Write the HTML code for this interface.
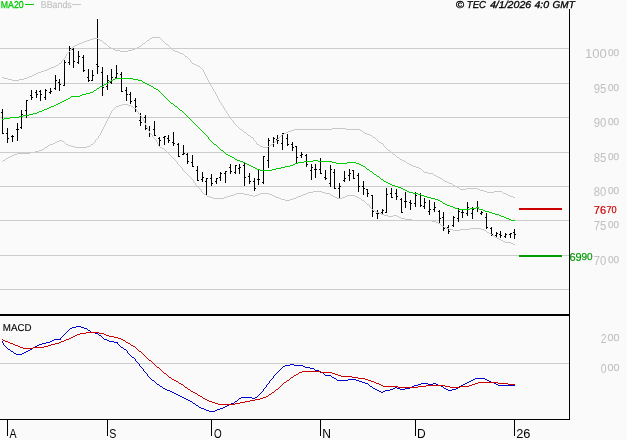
<!DOCTYPE html>
<html lang="en"><head><meta charset="utf-8"><title>Chart</title>
<style>
html,body{margin:0;padding:0;background:#fafafa;}
body{width:627px;height:440px;overflow:hidden;}
svg{display:block;}
text{font-family:"Liberation Sans",sans-serif;}
.g{text-rendering:geometricPrecision;}
</style></head><body>
<svg width="627" height="440" viewBox="0 0 627 440">
<rect width="627" height="440" fill="#fafafa"/>
<g shape-rendering="crispEdges" fill="#cccccc">
<rect x="0" y="48" width="569" height="1"/>
<rect x="0" y="83" width="569" height="1"/>
<rect x="0" y="117" width="569" height="1"/>
<rect x="0" y="152" width="569" height="1"/>
<rect x="0" y="186" width="569" height="1"/>
<rect x="0" y="220" width="569" height="1"/>
<rect x="0" y="255" width="569" height="1"/>
<rect x="0" y="289" width="569" height="1"/>
<rect x="0" y="363" width="569" height="1"/>
</g>
<g shape-rendering="crispEdges" fill="#000">
<rect x="2" y="109" width="1" height="25"/><rect x="1" y="112" width="1" height="1"/><rect x="3" y="133" width="1" height="1"/>
<rect x="7" y="128" width="1" height="15"/><rect x="6" y="133" width="1" height="1"/><rect x="8" y="138" width="1" height="1"/>
<rect x="12" y="135" width="1" height="7"/><rect x="11" y="136" width="1" height="1"/><rect x="13" y="136" width="1" height="1"/>
<rect x="17" y="123" width="1" height="18"/><rect x="16" y="129" width="1" height="1"/><rect x="18" y="129" width="1" height="1"/>
<rect x="21" y="110" width="1" height="19"/><rect x="20" y="127" width="1" height="1"/><rect x="22" y="114" width="1" height="1"/>
<rect x="26" y="100" width="1" height="18"/><rect x="25" y="110" width="1" height="1"/><rect x="27" y="100" width="1" height="1"/>
<rect x="31" y="90" width="1" height="10"/><rect x="30" y="95" width="1" height="1"/><rect x="32" y="97" width="1" height="1"/>
<rect x="36" y="90" width="1" height="8"/><rect x="35" y="92" width="1" height="1"/><rect x="37" y="94" width="1" height="1"/>
<rect x="40" y="90" width="1" height="11"/><rect x="39" y="91" width="1" height="1"/><rect x="41" y="94" width="1" height="1"/>
<rect x="45" y="89" width="1" height="11"/><rect x="44" y="97" width="1" height="1"/><rect x="46" y="90" width="1" height="1"/>
<rect x="50" y="88" width="1" height="6"/><rect x="49" y="92" width="1" height="1"/><rect x="51" y="91" width="1" height="1"/>
<rect x="55" y="75" width="1" height="15"/><rect x="54" y="88" width="1" height="1"/><rect x="56" y="80" width="1" height="1"/>
<rect x="59" y="79" width="1" height="12"/><rect x="58" y="82" width="1" height="1"/><rect x="60" y="84" width="1" height="1"/>
<rect x="64" y="60" width="1" height="26"/><rect x="63" y="85" width="1" height="1"/><rect x="65" y="62" width="1" height="1"/>
<rect x="69" y="46" width="1" height="19"/><rect x="68" y="62" width="1" height="1"/><rect x="70" y="48" width="1" height="1"/>
<rect x="73" y="48" width="1" height="20"/><rect x="72" y="49" width="1" height="1"/><rect x="74" y="61" width="1" height="1"/>
<rect x="78" y="51" width="1" height="13"/><rect x="77" y="62" width="1" height="1"/><rect x="79" y="56" width="1" height="1"/>
<rect x="83" y="55" width="1" height="17"/><rect x="82" y="57" width="1" height="1"/><rect x="84" y="70" width="1" height="1"/>
<rect x="88" y="69" width="1" height="13"/><rect x="87" y="77" width="1" height="1"/><rect x="89" y="80" width="1" height="1"/>
<rect x="92" y="70" width="1" height="11"/><rect x="91" y="80" width="1" height="1"/><rect x="93" y="75" width="1" height="1"/>
<rect x="97" y="19" width="1" height="55"/><rect x="96" y="64" width="1" height="1"/><rect x="98" y="66" width="1" height="1"/>
<rect x="102" y="67" width="1" height="29"/><rect x="101" y="72" width="1" height="1"/><rect x="103" y="87" width="1" height="1"/>
<rect x="107" y="75" width="1" height="15"/><rect x="106" y="86" width="1" height="1"/><rect x="108" y="80" width="1" height="1"/>
<rect x="111" y="69" width="1" height="15"/><rect x="110" y="82" width="1" height="1"/><rect x="112" y="77" width="1" height="1"/>
<rect x="116" y="65" width="1" height="13"/><rect x="115" y="77" width="1" height="1"/><rect x="117" y="73" width="1" height="1"/>
<rect x="121" y="72" width="1" height="20"/><rect x="120" y="74" width="1" height="1"/><rect x="122" y="91" width="1" height="1"/>
<rect x="126" y="87" width="1" height="14"/><rect x="125" y="90" width="1" height="1"/><rect x="127" y="94" width="1" height="1"/>
<rect x="130" y="92" width="1" height="12"/><rect x="129" y="94" width="1" height="1"/><rect x="131" y="101" width="1" height="1"/>
<rect x="135" y="98" width="1" height="14"/><rect x="134" y="100" width="1" height="1"/><rect x="136" y="106" width="1" height="1"/>
<rect x="140" y="113" width="1" height="13"/><rect x="139" y="120" width="1" height="1"/><rect x="141" y="122" width="1" height="1"/>
<rect x="145" y="115" width="1" height="15"/><rect x="144" y="117" width="1" height="1"/><rect x="146" y="128" width="1" height="1"/>
<rect x="149" y="126" width="1" height="11"/>
<rect x="154" y="121" width="1" height="15"/><rect x="153" y="129" width="1" height="1"/><rect x="155" y="135" width="1" height="1"/>
<rect x="159" y="137" width="1" height="9"/><rect x="158" y="138" width="1" height="1"/><rect x="160" y="140" width="1" height="1"/>
<rect x="164" y="136" width="1" height="9"/><rect x="163" y="137" width="1" height="1"/><rect x="165" y="136" width="1" height="1"/>
<rect x="168" y="135" width="1" height="8"/><rect x="167" y="138" width="1" height="1"/><rect x="169" y="140" width="1" height="1"/>
<rect x="173" y="132" width="1" height="14"/><rect x="172" y="142" width="1" height="1"/><rect x="174" y="143" width="1" height="1"/>
<rect x="178" y="143" width="1" height="14"/><rect x="177" y="144" width="1" height="1"/><rect x="179" y="156" width="1" height="1"/>
<rect x="183" y="145" width="1" height="10"/><rect x="182" y="154" width="1" height="1"/><rect x="184" y="153" width="1" height="1"/>
<rect x="187" y="153" width="1" height="11"/><rect x="186" y="154" width="1" height="1"/><rect x="188" y="161" width="1" height="1"/>
<rect x="192" y="155" width="1" height="12"/><rect x="191" y="162" width="1" height="1"/><rect x="193" y="166" width="1" height="1"/>
<rect x="197" y="166" width="1" height="15"/><rect x="196" y="170" width="1" height="1"/><rect x="198" y="180" width="1" height="1"/>
<rect x="202" y="172" width="1" height="10"/><rect x="201" y="179" width="1" height="1"/><rect x="203" y="177" width="1" height="1"/>
<rect x="206" y="178" width="1" height="17"/><rect x="205" y="181" width="1" height="1"/><rect x="207" y="178" width="1" height="1"/>
<rect x="211" y="174" width="1" height="12"/><rect x="210" y="178" width="1" height="1"/><rect x="212" y="183" width="1" height="1"/>
<rect x="216" y="178" width="1" height="6"/><rect x="215" y="181" width="1" height="1"/><rect x="217" y="178" width="1" height="1"/>
<rect x="220" y="172" width="1" height="9"/><rect x="219" y="177" width="1" height="1"/><rect x="221" y="173" width="1" height="1"/>
<rect x="225" y="171" width="1" height="12"/><rect x="224" y="173" width="1" height="1"/><rect x="226" y="171" width="1" height="1"/>
<rect x="230" y="164" width="1" height="10"/><rect x="229" y="167" width="1" height="1"/><rect x="231" y="171" width="1" height="1"/>
<rect x="235" y="165" width="1" height="9"/><rect x="234" y="172" width="1" height="1"/><rect x="236" y="165" width="1" height="1"/>
<rect x="239" y="164" width="1" height="10"/><rect x="238" y="168" width="1" height="1"/><rect x="240" y="167" width="1" height="1"/>
<rect x="244" y="163" width="1" height="23"/><rect x="243" y="165" width="1" height="1"/><rect x="245" y="177" width="1" height="1"/>
<rect x="249" y="173" width="1" height="11"/><rect x="248" y="176" width="1" height="1"/><rect x="250" y="181" width="1" height="1"/>
<rect x="254" y="178" width="1" height="13"/><rect x="253" y="181" width="1" height="1"/><rect x="255" y="188" width="1" height="1"/>
<rect x="258" y="170" width="1" height="15"/><rect x="257" y="179" width="1" height="1"/><rect x="259" y="179" width="1" height="1"/>
<rect x="263" y="156" width="1" height="28"/><rect x="262" y="182" width="1" height="1"/><rect x="264" y="156" width="1" height="1"/>
<rect x="268" y="138" width="1" height="30"/><rect x="267" y="160" width="1" height="1"/><rect x="269" y="140" width="1" height="1"/>
<rect x="273" y="137" width="1" height="10"/><rect x="272" y="144" width="1" height="1"/><rect x="274" y="138" width="1" height="1"/>
<rect x="277" y="135" width="1" height="9"/><rect x="276" y="139" width="1" height="1"/><rect x="278" y="140" width="1" height="1"/>
<rect x="282" y="133" width="1" height="17"/><rect x="281" y="143" width="1" height="1"/><rect x="283" y="133" width="1" height="1"/>
<rect x="287" y="134" width="1" height="12"/><rect x="286" y="138" width="1" height="1"/><rect x="288" y="144" width="1" height="1"/>
<rect x="292" y="142" width="1" height="9"/><rect x="291" y="144" width="1" height="1"/><rect x="293" y="147" width="1" height="1"/>
<rect x="296" y="146" width="1" height="18"/><rect x="295" y="146" width="1" height="1"/><rect x="297" y="157" width="1" height="1"/>
<rect x="301" y="152" width="1" height="6"/><rect x="300" y="155" width="1" height="1"/><rect x="302" y="154" width="1" height="1"/>
<rect x="306" y="154" width="1" height="13"/><rect x="305" y="155" width="1" height="1"/><rect x="307" y="164" width="1" height="1"/>
<rect x="311" y="164" width="1" height="16"/><rect x="310" y="170" width="1" height="1"/><rect x="312" y="167" width="1" height="1"/>
<rect x="315" y="164" width="1" height="14"/><rect x="314" y="169" width="1" height="1"/><rect x="316" y="169" width="1" height="1"/>
<rect x="320" y="158" width="1" height="16"/><rect x="319" y="169" width="1" height="1"/><rect x="321" y="173" width="1" height="1"/>
<rect x="325" y="170" width="1" height="10"/><rect x="324" y="177" width="1" height="1"/><rect x="326" y="178" width="1" height="1"/>
<rect x="330" y="165" width="1" height="22"/><rect x="329" y="183" width="1" height="1"/><rect x="331" y="169" width="1" height="1"/>
<rect x="334" y="169" width="1" height="20"/><rect x="333" y="172" width="1" height="1"/><rect x="335" y="188" width="1" height="1"/>
<rect x="339" y="183" width="1" height="15"/><rect x="338" y="188" width="1" height="1"/><rect x="340" y="186" width="1" height="1"/>
<rect x="344" y="171" width="1" height="11"/><rect x="343" y="180" width="1" height="1"/><rect x="345" y="178" width="1" height="1"/>
<rect x="349" y="169" width="1" height="12"/><rect x="348" y="175" width="1" height="1"/><rect x="350" y="173" width="1" height="1"/>
<rect x="353" y="170" width="1" height="9"/><rect x="352" y="170" width="1" height="1"/><rect x="354" y="178" width="1" height="1"/>
<rect x="358" y="173" width="1" height="19"/><rect x="357" y="175" width="1" height="1"/><rect x="359" y="186" width="1" height="1"/>
<rect x="363" y="181" width="1" height="14"/><rect x="362" y="186" width="1" height="1"/><rect x="364" y="188" width="1" height="1"/>
<rect x="367" y="189" width="1" height="8"/><rect x="366" y="189" width="1" height="1"/><rect x="368" y="193" width="1" height="1"/>
<rect x="372" y="195" width="1" height="22"/><rect x="371" y="195" width="1" height="1"/><rect x="373" y="211" width="1" height="1"/>
<rect x="377" y="210" width="1" height="9"/><rect x="376" y="213" width="1" height="1"/><rect x="378" y="213" width="1" height="1"/>
<rect x="382" y="209" width="1" height="6"/><rect x="381" y="212" width="1" height="1"/><rect x="383" y="210" width="1" height="1"/>
<rect x="386" y="188" width="1" height="25"/><rect x="385" y="212" width="1" height="1"/><rect x="387" y="194" width="1" height="1"/>
<rect x="391" y="188" width="1" height="10"/><rect x="390" y="193" width="1" height="1"/><rect x="392" y="197" width="1" height="1"/>
<rect x="396" y="189" width="1" height="11"/><rect x="395" y="193" width="1" height="1"/><rect x="397" y="196" width="1" height="1"/>
<rect x="401" y="198" width="1" height="15"/><rect x="400" y="199" width="1" height="1"/><rect x="402" y="212" width="1" height="1"/>
<rect x="405" y="192" width="1" height="16"/><rect x="404" y="201" width="1" height="1"/><rect x="406" y="201" width="1" height="1"/>
<rect x="410" y="200" width="1" height="10"/><rect x="409" y="202" width="1" height="1"/><rect x="411" y="203" width="1" height="1"/>
<rect x="415" y="192" width="1" height="15"/><rect x="414" y="203" width="1" height="1"/><rect x="416" y="195" width="1" height="1"/>
<rect x="420" y="193" width="1" height="14"/><rect x="419" y="194" width="1" height="1"/><rect x="421" y="205" width="1" height="1"/>
<rect x="424" y="198" width="1" height="11"/><rect x="423" y="206" width="1" height="1"/><rect x="425" y="202" width="1" height="1"/>
<rect x="429" y="200" width="1" height="15"/><rect x="428" y="211" width="1" height="1"/><rect x="430" y="209" width="1" height="1"/>
<rect x="434" y="202" width="1" height="10"/><rect x="433" y="209" width="1" height="1"/><rect x="435" y="207" width="1" height="1"/>
<rect x="439" y="210" width="1" height="13"/><rect x="438" y="211" width="1" height="1"/><rect x="440" y="218" width="1" height="1"/>
<rect x="443" y="212" width="1" height="19"/><rect x="442" y="217" width="1" height="1"/><rect x="444" y="228" width="1" height="1"/>
<rect x="448" y="225" width="1" height="9"/><rect x="447" y="227" width="1" height="1"/><rect x="449" y="231" width="1" height="1"/>
<rect x="453" y="216" width="1" height="11"/><rect x="452" y="225" width="1" height="1"/><rect x="454" y="217" width="1" height="1"/>
<rect x="458" y="208" width="1" height="14"/><rect x="457" y="218" width="1" height="1"/><rect x="459" y="211" width="1" height="1"/>
<rect x="462" y="210" width="1" height="8"/><rect x="461" y="212" width="1" height="1"/><rect x="463" y="212" width="1" height="1"/>
<rect x="467" y="202" width="1" height="14"/><rect x="466" y="213" width="1" height="1"/><rect x="468" y="207" width="1" height="1"/>
<rect x="472" y="207" width="1" height="12"/><rect x="471" y="213" width="1" height="1"/><rect x="473" y="209" width="1" height="1"/>
<rect x="477" y="201" width="1" height="11"/><rect x="476" y="207" width="1" height="1"/><rect x="478" y="208" width="1" height="1"/>
<rect x="481" y="211" width="1" height="4"/><rect x="480" y="213" width="1" height="1"/><rect x="482" y="212" width="1" height="1"/>
<rect x="486" y="213" width="1" height="16"/><rect x="485" y="217" width="1" height="1"/><rect x="487" y="227" width="1" height="1"/>
<rect x="491" y="227" width="1" height="9"/><rect x="490" y="228" width="1" height="1"/><rect x="492" y="234" width="1" height="1"/>
<rect x="496" y="232" width="1" height="5"/><rect x="495" y="235" width="1" height="1"/><rect x="497" y="233" width="1" height="1"/>
<rect x="500" y="231" width="1" height="7"/><rect x="499" y="234" width="1" height="1"/><rect x="501" y="235" width="1" height="1"/>
<rect x="505" y="233" width="1" height="5"/><rect x="504" y="236" width="1" height="1"/><rect x="506" y="234" width="1" height="1"/>
<rect x="510" y="233" width="1" height="5"/><rect x="509" y="234" width="1" height="1"/><rect x="511" y="233" width="1" height="1"/>
<rect x="514" y="229" width="1" height="10"/><rect x="513" y="232" width="1" height="1"/><rect x="515" y="234" width="1" height="1"/>
</g>
<path d="M2 77h2v1h-2zM4 78h4v1h-4zM8 79h4v1h-4zM12 80h7v1h-7zM19 79h5v1h-5zM24 78h3v1h-3zM27 77h2v1h-2zM29 76h3v1h-3zM32 75h2v1h-2zM34 74h2v1h-2zM36 73h2v1h-2zM38 72h3v1h-3zM41 71h3v1h-3zM44 70h3v1h-3zM47 69h2v1h-2zM49 68h2v1h-2zM51 67h3v1h-3zM54 66h2v1h-2zM56 65h2v1h-2zM58 64h1v1h-1zM59 63h2v1h-2zM61 61h1v2h-1zM62 60h1v1h-1zM63 59h1v1h-1zM64 58h1v1h-1zM65 56h1v2h-1zM66 54h1v2h-1zM67 53h1v1h-1zM68 52h1v1h-1zM69 51h1v1h-1zM70 50h1v1h-1zM71 49h1v1h-1zM72 47h1v2h-1zM73 46h2v1h-2zM75 45h2v1h-2zM77 44h2v1h-2zM79 43h3v1h-3zM82 42h2v1h-2zM84 41h3v1h-3zM87 40h3v1h-3zM90 39h3v1h-3zM93 38h5v1h-5zM98 39h2v1h-2zM100 40h2v1h-2zM102 41h1v1h-1zM103 42h1v1h-1zM104 43h2v1h-2zM106 44h1v1h-1zM107 45h1v1h-1zM108 46h1v1h-1zM109 47h2v1h-2zM111 48h2v1h-2zM113 49h2v1h-2zM115 50h5v1h-5zM120 51h8v1h-8zM128 50h4v1h-4zM132 49h3v1h-3zM135 48h2v1h-2zM137 47h2v1h-2zM139 46h2v1h-2zM141 45h1v1h-1zM142 44h1v1h-1zM143 43h2v1h-2zM145 42h1v1h-1zM146 41h1v1h-1zM147 40h2v1h-2zM149 39h1v1h-1zM150 38h2v1h-2zM152 37h8v1h-8zM160 38h1v1h-1zM161 39h1v1h-1zM162 40h1v1h-1zM163 41h1v1h-1zM164 42h1v1h-1zM165 43h1v1h-1zM166 44h2v1h-2zM168 45h1v1h-1zM169 46h1v1h-1zM170 47h1v1h-1zM171 48h1v1h-1zM172 49h1v1h-1zM173 50h2v1h-2zM175 51h3v1h-3zM178 52h2v1h-2zM180 53h3v1h-3zM183 54h1v1h-1zM184 55h1v1h-1zM185 56h2v1h-2zM187 57h1v1h-1zM188 58h1v1h-1zM189 59h1v1h-1zM190 60h1v2h-1zM191 62h1v1h-1zM192 63h2v1h-2zM194 64h2v1h-2zM196 65h2v1h-2zM198 66h2v1h-2zM200 67h1v1h-1zM201 68h1v1h-1zM202 69h1v1h-1zM203 70h1v2h-1zM204 72h1v2h-1zM205 74h1v2h-1zM206 76h1v2h-1zM207 78h1v2h-1zM208 80h1v2h-1zM209 82h1v2h-1zM210 84h1v2h-1zM211 86h1v1h-1zM212 87h1v2h-1zM213 89h1v2h-1zM214 91h1v1h-1zM215 92h1v2h-1zM216 94h1v2h-1zM217 96h1v2h-1zM218 98h1v2h-1zM219 100h1v2h-1zM220 102h1v1h-1zM221 103h1v2h-1zM222 105h1v1h-1zM223 106h1v2h-1zM224 108h1v2h-1zM225 110h1v1h-1zM226 111h1v2h-1zM227 113h1v1h-1zM228 114h1v2h-1zM229 116h1v2h-1zM230 118h1v1h-1zM231 119h1v1h-1zM232 120h1v1h-1zM233 121h1v2h-1zM234 123h1v1h-1zM235 124h1v1h-1zM236 125h1v1h-1zM237 126h1v1h-1zM238 127h1v1h-1zM239 128h1v1h-1zM240 129h2v1h-2zM242 130h1v1h-1zM243 131h1v1h-1zM244 132h2v1h-2zM246 133h1v1h-1zM247 134h1v1h-1zM248 135h2v1h-2zM250 136h1v1h-1zM251 137h2v1h-2zM253 138h1v2h-1zM254 140h1v1h-1zM255 141h1v1h-1zM256 142h1v2h-1zM257 144h2v1h-2zM259 145h1v1h-1zM260 146h3v1h-3zM263 147h5v1h-5zM268 146h2v1h-2zM270 145h1v1h-1zM271 144h2v1h-2zM273 143h1v1h-1zM274 142h1v1h-1zM275 141h1v1h-1zM276 140h1v1h-1zM277 139h1v1h-1zM278 138h1v1h-1zM279 137h1v1h-1zM280 136h1v1h-1zM281 135h1v1h-1zM282 134h2v1h-2zM284 133h2v1h-2zM286 132h2v1h-2zM288 131h3v1h-3zM291 130h3v1h-3zM294 129h38v1h-38zM332 128h14v1h-14zM346 129h14v1h-14zM360 130h2v1h-2zM362 131h1v1h-1zM363 132h2v1h-2zM365 133h2v1h-2zM367 134h3v1h-3zM370 135h2v1h-2zM372 136h1v1h-1zM373 137h2v1h-2zM375 138h1v1h-1zM376 139h1v1h-1zM377 140h1v1h-1zM378 141h1v1h-1zM379 142h2v1h-2zM381 143h2v1h-2zM383 144h1v2h-1zM384 146h1v1h-1zM385 147h1v1h-1zM386 148h1v1h-1zM387 149h1v1h-1zM388 150h2v1h-2zM390 151h1v1h-1zM391 152h1v1h-1zM392 153h1v1h-1zM393 154h2v1h-2zM395 155h1v1h-1zM396 156h1v1h-1zM397 157h2v1h-2zM399 158h1v1h-1zM400 159h2v1h-2zM402 160h2v1h-2zM404 161h2v1h-2zM406 162h1v1h-1zM407 163h2v1h-2zM409 164h2v1h-2zM411 165h2v1h-2zM413 166h3v1h-3zM416 167h3v1h-3zM419 168h2v1h-2zM421 169h1v1h-1zM422 170h1v1h-1zM423 171h1v1h-1zM424 172h4v1h-4zM428 173h5v1h-5zM433 174h1v1h-1zM434 175h2v1h-2zM436 176h2v1h-2zM438 177h2v1h-2zM440 178h2v1h-2zM442 179h1v1h-1zM443 180h2v1h-2zM445 181h2v1h-2zM447 182h2v1h-2zM449 183h3v1h-3zM452 184h1v1h-1zM453 185h2v1h-2zM455 186h2v1h-2zM457 187h2v1h-2zM459 188h1v1h-1zM460 189h6v1h-6zM466 188h12v1h-12zM478 189h2v1h-2zM480 190h4v1h-4zM484 191h3v1h-3zM487 192h7v1h-7zM494 191h8v1h-8zM502 192h1v1h-1zM503 193h3v1h-3zM506 194h2v1h-2zM508 195h2v1h-2zM510 196h3v1h-3zM513 197h2v1h-2z" fill="#c8c8c8" shape-rendering="crispEdges"/>
<path d="M2 161h1v1h-1zM3 160h2v1h-2zM5 159h1v1h-1zM6 158h2v1h-2zM8 157h2v1h-2zM10 156h2v1h-2zM12 155h2v1h-2zM14 154h3v1h-3zM17 153h13v1h-13zM30 152h5v1h-5zM35 151h4v1h-4zM39 150h3v1h-3zM42 149h2v1h-2zM44 148h1v1h-1zM45 147h2v1h-2zM47 146h1v1h-1zM48 145h2v1h-2zM50 144h3v1h-3zM53 143h2v1h-2zM55 142h2v1h-2zM57 141h2v1h-2zM59 140h3v1h-3zM62 141h2v1h-2zM64 142h1v1h-1zM65 143h1v1h-1zM66 144h2v1h-2zM68 145h3v1h-3zM71 146h4v1h-4zM75 147h12v1h-12zM87 146h3v1h-3zM90 145h1v1h-1zM91 144h2v1h-2zM93 143h1v1h-1zM94 142h1v1h-1zM95 140h1v2h-1zM96 139h1v1h-1zM97 138h1v1h-1zM98 136h1v2h-1zM99 135h1v1h-1zM100 133h1v2h-1zM101 131h1v2h-1zM102 129h1v2h-1zM103 127h1v2h-1zM104 125h1v2h-1zM105 123h1v2h-1zM106 121h1v2h-1zM107 119h1v2h-1zM108 117h1v2h-1zM109 115h1v2h-1zM110 113h1v2h-1zM111 111h1v2h-1zM112 110h1v1h-1zM113 109h1v1h-1zM114 108h1v1h-1zM115 107h1v1h-1zM116 106h3v1h-3zM119 105h3v1h-3zM122 104h6v1h-6zM128 105h3v1h-3zM131 106h2v1h-2zM133 107h1v1h-1zM134 108h2v1h-2zM136 109h1v2h-1zM137 111h1v1h-1zM138 112h1v2h-1zM139 114h1v1h-1zM140 115h1v1h-1zM141 116h1v2h-1zM142 118h1v1h-1zM143 119h1v2h-1zM144 121h1v2h-1zM145 123h1v2h-1zM146 125h1v2h-1zM147 127h1v2h-1zM148 129h1v2h-1zM149 131h1v2h-1zM150 133h1v1h-1zM151 134h1v1h-1zM152 135h1v2h-1zM153 137h1v1h-1zM154 138h1v1h-1zM155 139h1v1h-1zM156 140h1v2h-1zM157 142h1v2h-1zM158 144h1v2h-1zM159 146h1v1h-1zM160 147h2v1h-2zM162 148h2v1h-2zM164 149h1v1h-1zM165 150h1v1h-1zM166 151h1v1h-1zM167 152h1v1h-1zM168 153h1v1h-1zM169 154h1v1h-1zM170 155h1v1h-1zM171 156h1v1h-1zM172 157h1v1h-1zM173 158h1v1h-1zM174 159h1v1h-1zM175 160h1v1h-1zM176 161h1v1h-1zM177 162h1v2h-1zM178 164h1v1h-1zM179 165h1v1h-1zM180 166h1v1h-1zM181 167h1v1h-1zM182 168h1v2h-1zM183 170h1v1h-1zM184 171h1v1h-1zM185 172h1v1h-1zM186 173h1v1h-1zM187 174h1v1h-1zM188 175h1v1h-1zM189 176h1v1h-1zM190 177h1v1h-1zM191 178h1v1h-1zM192 179h1v1h-1zM193 180h1v2h-1zM194 182h1v1h-1zM195 183h1v2h-1zM196 185h1v1h-1zM197 186h1v1h-1zM198 187h1v1h-1zM199 188h1v1h-1zM200 189h1v1h-1zM201 190h1v2h-1zM202 192h1v1h-1zM203 193h1v1h-1zM204 194h2v1h-2zM206 195h1v1h-1zM207 196h3v1h-3zM210 197h3v1h-3zM213 198h11v1h-11zM224 197h3v1h-3zM227 196h3v1h-3zM230 195h4v1h-4zM234 194h2v1h-2zM236 193h8v1h-8zM244 194h5v1h-5zM249 195h4v1h-4zM253 196h2v1h-2zM255 195h3v1h-3zM258 194h2v1h-2zM260 193h9v1h-9zM269 194h3v1h-3zM272 195h2v1h-2zM274 196h2v1h-2zM276 197h3v1h-3zM279 198h2v1h-2zM281 199h4v1h-4zM285 200h5v1h-5zM290 199h3v1h-3zM293 198h3v1h-3zM296 197h2v1h-2zM298 196h3v1h-3zM301 195h2v1h-2zM303 194h3v1h-3zM306 193h2v1h-2zM308 192h5v1h-5zM313 191h9v1h-9zM322 192h3v1h-3zM325 193h5v1h-5zM330 194h1v1h-1zM331 195h2v1h-2zM333 196h2v1h-2zM335 197h2v1h-2zM337 198h5v1h-5zM342 197h3v1h-3zM345 196h2v1h-2zM347 195h8v1h-8zM355 196h2v1h-2zM357 197h2v1h-2zM359 198h2v1h-2zM361 199h1v1h-1zM362 200h2v1h-2zM364 201h1v1h-1zM365 202h1v1h-1zM366 203h1v1h-1zM367 204h2v1h-2zM369 205h1v2h-1zM370 207h1v1h-1zM371 208h1v1h-1zM372 209h1v1h-1zM373 210h2v1h-2zM375 211h2v1h-2zM377 212h2v1h-2zM379 213h2v1h-2zM381 214h3v1h-3zM384 215h4v1h-4zM388 216h5v1h-5zM393 215h4v1h-4zM397 216h2v1h-2zM399 217h2v1h-2zM401 218h4v1h-4zM405 219h7v1h-7zM412 220h20v1h-20zM432 221h4v1h-4zM436 222h2v1h-2zM438 223h2v1h-2zM440 224h1v1h-1zM441 225h1v1h-1zM442 226h2v1h-2zM444 227h2v1h-2zM446 228h3v1h-3zM449 229h4v1h-4zM453 230h7v1h-7zM460 229h10v1h-10zM470 228h11v1h-11zM481 229h3v1h-3zM484 230h2v1h-2zM486 231h1v1h-1zM487 232h2v1h-2zM489 233h2v1h-2zM491 234h1v1h-1zM492 235h2v1h-2zM494 236h1v1h-1zM495 237h2v1h-2zM497 238h2v1h-2zM499 239h2v1h-2zM501 240h2v1h-2zM503 241h2v1h-2zM505 242h6v1h-6zM511 243h2v1h-2zM513 244h2v1h-2z" fill="#c8c8c8" shape-rendering="crispEdges"/>
<path d="M2 119h2v1h-2zM4 118h6v1h-6zM10 117h9v1h-9zM19 116h4v1h-4zM23 115h6v1h-6zM29 114h4v1h-4zM33 113h4v1h-4zM37 112h2v1h-2zM39 111h3v1h-3zM42 110h2v1h-2zM44 109h3v1h-3zM47 108h2v1h-2zM49 107h2v1h-2zM51 106h3v1h-3zM54 105h2v1h-2zM56 104h2v1h-2zM58 103h2v1h-2zM60 102h2v1h-2zM62 101h2v1h-2zM64 100h2v1h-2zM66 99h2v1h-2zM68 98h2v1h-2zM70 97h1v1h-1zM71 96h9v1h-9zM80 95h2v1h-2zM82 94h4v1h-4zM86 93h4v1h-4zM90 92h3v1h-3zM93 91h1v1h-1zM94 90h2v1h-2zM96 89h1v1h-1zM97 88h2v1h-2zM99 87h1v1h-1zM100 86h3v1h-3zM103 85h1v1h-1zM104 84h2v1h-2zM106 83h2v1h-2zM108 82h1v1h-1zM109 81h2v1h-2zM111 80h2v1h-2zM113 79h2v1h-2zM115 78h18v1h-18zM133 79h5v1h-5zM138 80h4v1h-4zM142 81h1v1h-1zM143 82h2v1h-2zM145 83h2v1h-2zM147 84h2v1h-2zM149 85h2v1h-2zM151 86h2v1h-2zM153 87h1v1h-1zM154 88h2v1h-2zM156 89h2v1h-2zM158 90h1v1h-1zM159 91h1v1h-1zM160 92h1v1h-1zM161 93h1v1h-1zM162 94h1v1h-1zM163 95h1v1h-1zM164 96h1v1h-1zM165 97h1v1h-1zM166 98h1v1h-1zM167 99h1v1h-1zM168 100h1v1h-1zM169 101h1v1h-1zM170 102h1v1h-1zM171 103h2v1h-2zM173 104h1v1h-1zM174 105h1v1h-1zM175 106h2v1h-2zM177 107h1v1h-1zM178 108h1v1h-1zM179 109h1v1h-1zM180 110h2v1h-2zM182 111h1v1h-1zM183 112h1v1h-1zM184 113h1v1h-1zM185 114h1v1h-1zM186 115h1v1h-1zM187 116h1v1h-1zM188 117h1v1h-1zM189 118h1v1h-1zM190 119h1v1h-1zM191 120h1v1h-1zM192 121h1v1h-1zM193 122h1v1h-1zM194 123h1v1h-1zM195 124h1v1h-1zM196 125h1v1h-1zM197 126h1v1h-1zM198 127h1v1h-1zM199 128h1v1h-1zM200 129h1v1h-1zM201 130h1v1h-1zM202 131h1v1h-1zM203 132h1v1h-1zM204 133h1v1h-1zM205 134h1v1h-1zM206 135h1v1h-1zM207 136h1v1h-1zM208 137h1v2h-1zM209 139h1v1h-1zM210 140h1v1h-1zM211 141h1v1h-1zM212 142h1v1h-1zM213 143h1v1h-1zM214 144h2v1h-2zM216 145h1v1h-1zM217 146h1v1h-1zM218 147h1v1h-1zM219 148h1v1h-1zM220 149h1v1h-1zM221 150h2v1h-2zM223 151h1v1h-1zM224 152h1v1h-1zM225 153h1v1h-1zM226 154h2v1h-2zM228 155h2v1h-2zM230 156h2v1h-2zM232 157h2v1h-2zM234 158h1v1h-1zM235 159h2v1h-2zM237 160h3v1h-3zM240 161h3v1h-3zM243 162h2v1h-2zM245 163h2v1h-2zM247 164h2v1h-2zM249 165h2v1h-2zM251 166h2v1h-2zM253 167h2v1h-2zM255 168h2v1h-2zM257 169h3v1h-3zM260 170h12v1h-12zM272 169h4v1h-4zM276 168h5v1h-5zM281 167h4v1h-4zM285 166h5v1h-5zM290 165h3v1h-3zM293 164h2v1h-2zM295 163h3v1h-3zM298 162h6v1h-6zM304 161h9v1h-9zM313 160h5v1h-5zM318 161h14v1h-14zM332 162h4v1h-4zM336 163h11v1h-11zM347 162h9v1h-9zM356 163h3v1h-3zM359 164h2v1h-2zM361 165h2v1h-2zM363 166h2v1h-2zM365 167h1v1h-1zM366 168h1v1h-1zM367 169h2v1h-2zM369 170h1v1h-1zM370 171h2v1h-2zM372 172h1v1h-1zM373 173h1v1h-1zM374 174h2v1h-2zM376 175h1v1h-1zM377 176h2v1h-2zM379 177h1v1h-1zM380 178h1v1h-1zM381 179h2v1h-2zM383 180h1v1h-1zM384 181h2v1h-2zM386 182h2v1h-2zM388 183h2v1h-2zM390 184h2v1h-2zM392 185h3v1h-3zM395 186h3v1h-3zM398 187h3v1h-3zM401 188h2v1h-2zM403 189h2v1h-2zM405 190h2v1h-2zM407 191h2v1h-2zM409 192h4v1h-4zM413 193h5v1h-5zM418 194h3v1h-3zM421 195h3v1h-3zM424 196h3v1h-3zM427 197h4v1h-4zM431 198h4v1h-4zM435 199h3v1h-3zM438 200h2v1h-2zM440 201h2v1h-2zM442 202h1v1h-1zM443 203h2v1h-2zM445 204h2v1h-2zM447 205h3v1h-3zM450 206h3v1h-3zM453 207h2v1h-2zM455 208h3v1h-3zM458 209h12v1h-12zM470 208h6v1h-6zM476 207h2v1h-2zM478 207h1v2h-1zM479 209h4v1h-4zM483 210h2v1h-2zM485 211h4v1h-4zM489 212h3v1h-3zM492 213h3v1h-3zM495 214h4v1h-4zM499 215h2v1h-2zM501 216h3v1h-3zM504 217h2v1h-2zM506 218h3v1h-3zM509 219h2v1h-2zM511 220h4v1h-4z" fill="#00cc00" shape-rendering="crispEdges"/>
<rect x="519" y="208" width="43" height="2" fill="#cc0000" shape-rendering="crispEdges"/>
<rect x="519" y="255" width="43" height="2" fill="#009900" shape-rendering="crispEdges"/>
<path d="M2 341h1v2h-1zM3 343h1v2h-1zM4 345h1v1h-1zM5 346h1v1h-1zM6 347h1v1h-1zM7 348h1v1h-1zM8 349h2v1h-2zM10 350h1v1h-1zM11 351h2v1h-2zM13 352h1v1h-1zM14 353h2v1h-2zM16 354h6v1h-6zM22 353h2v1h-2zM24 352h2v1h-2zM26 351h2v1h-2zM28 350h2v1h-2zM30 349h2v1h-2zM32 348h1v1h-1zM33 347h2v1h-2zM35 346h2v1h-2zM37 345h2v1h-2zM39 344h3v1h-3zM42 343h4v1h-4zM46 342h4v1h-4zM50 341h2v1h-2zM52 340h2v1h-2zM54 339h6v1h-6zM60 338h1v2h-1zM61 337h1v1h-1zM62 336h1v1h-1zM63 335h1v1h-1zM64 334h1v1h-1zM65 333h1v1h-1zM66 332h1v1h-1zM67 331h1v1h-1zM68 330h1v1h-1zM69 329h1v1h-1zM70 328h2v1h-2zM72 327h4v1h-4zM76 326h5v1h-5zM81 327h3v1h-3zM84 328h3v1h-3zM87 329h1v1h-1zM88 330h2v1h-2zM90 331h1v1h-1zM91 332h4v1h-4zM95 333h3v1h-3zM98 334h1v1h-1zM99 335h2v1h-2zM101 336h1v1h-1zM102 337h1v1h-1zM103 338h1v1h-1zM104 339h3v1h-3zM107 340h2v1h-2zM109 341h5v1h-5zM114 342h3v1h-3zM117 342h1v2h-1zM118 344h1v1h-1zM119 345h1v1h-1zM120 346h1v1h-1zM121 347h2v1h-2zM123 348h1v1h-1zM124 349h2v1h-2zM126 350h1v1h-1zM127 351h1v2h-1zM128 353h1v1h-1zM129 354h1v1h-1zM130 355h1v1h-1zM131 356h1v1h-1zM132 357h2v1h-2zM134 358h1v1h-1zM135 359h1v2h-1zM136 361h1v1h-1zM137 362h1v1h-1zM138 363h1v1h-1zM139 364h1v2h-1zM140 366h1v1h-1zM141 367h1v1h-1zM142 368h1v1h-1zM143 369h1v2h-1zM144 371h1v1h-1zM145 372h1v1h-1zM146 373h1v1h-1zM147 374h1v2h-1zM148 376h1v1h-1zM149 377h1v1h-1zM150 378h1v1h-1zM151 379h1v1h-1zM152 380h2v1h-2zM154 381h1v1h-1zM155 382h1v1h-1zM156 383h1v1h-1zM157 384h2v1h-2zM159 385h1v1h-1zM160 386h2v1h-2zM162 387h1v1h-1zM163 388h2v1h-2zM165 389h2v1h-2zM167 390h3v1h-3zM170 391h2v1h-2zM172 392h2v1h-2zM174 393h2v1h-2zM176 394h2v1h-2zM178 395h2v1h-2zM180 396h2v1h-2zM182 397h2v1h-2zM184 398h2v1h-2zM186 399h2v1h-2zM188 400h2v1h-2zM190 401h2v1h-2zM192 402h1v1h-1zM193 403h2v1h-2zM195 404h1v1h-1zM196 405h2v1h-2zM198 406h1v1h-1zM199 407h2v1h-2zM201 408h3v1h-3zM204 409h2v1h-2zM206 410h3v1h-3zM209 411h6v1h-6zM215 410h2v1h-2zM217 409h3v1h-3zM220 408h3v1h-3zM223 407h2v1h-2zM225 406h2v1h-2zM227 405h2v1h-2zM229 404h2v1h-2zM231 403h3v1h-3zM234 402h1v1h-1zM235 401h2v1h-2zM237 400h1v1h-1zM238 399h1v1h-1zM239 398h2v1h-2zM241 397h11v1h-11zM252 398h3v1h-3zM255 397h2v1h-2zM257 396h1v1h-1zM258 395h1v1h-1zM259 394h1v1h-1zM260 393h1v1h-1zM261 392h1v1h-1zM262 391h1v1h-1zM263 389h1v2h-1zM264 388h1v1h-1zM265 387h1v1h-1zM266 385h1v2h-1zM267 384h1v1h-1zM268 383h1v1h-1zM269 381h1v2h-1zM270 380h1v1h-1zM271 379h1v1h-1zM272 378h1v1h-1zM273 376h1v2h-1zM274 375h1v1h-1zM275 374h1v1h-1zM276 373h1v1h-1zM277 372h1v1h-1zM278 371h1v1h-1zM279 370h1v1h-1zM280 369h1v1h-1zM281 368h1v1h-1zM282 367h1v1h-1zM283 366h2v1h-2zM285 365h5v1h-5zM290 364h4v1h-4zM294 365h9v1h-9zM303 366h2v1h-2zM305 367h5v1h-5zM310 368h4v1h-4zM314 369h1v1h-1zM315 370h4v1h-4zM319 371h1v1h-1zM320 372h3v1h-3zM323 373h1v1h-1zM324 374h1v1h-1zM325 375h6v1h-6zM331 376h1v1h-1zM332 377h2v1h-2zM334 378h2v1h-2zM336 379h1v1h-1zM337 380h11v1h-11zM348 379h8v1h-8zM356 380h3v1h-3zM359 381h3v1h-3zM362 382h3v1h-3zM365 383h3v1h-3zM368 384h1v1h-1zM369 385h1v1h-1zM370 386h2v1h-2zM372 387h1v1h-1zM373 388h2v1h-2zM375 389h2v1h-2zM377 390h2v1h-2zM379 391h2v1h-2zM381 392h2v1h-2zM383 391h2v1h-2zM385 390h5v1h-5zM390 389h3v1h-3zM393 388h2v1h-2zM395 387h2v1h-2zM397 388h3v1h-3zM400 389h5v1h-5zM405 388h5v1h-5zM410 387h2v1h-2zM412 386h2v1h-2zM414 385h4v1h-4zM418 384h3v1h-3zM421 383h7v1h-7zM428 384h5v1h-5zM433 383h3v1h-3zM436 384h2v1h-2zM438 385h3v1h-3zM441 386h2v1h-2zM443 387h1v1h-1zM444 388h2v1h-2zM446 389h2v1h-2zM448 390h4v1h-4zM452 389h4v1h-4zM456 388h2v1h-2zM458 387h1v1h-1zM459 386h2v1h-2zM461 385h2v1h-2zM463 384h2v1h-2zM465 383h2v1h-2zM467 382h2v1h-2zM469 381h2v1h-2zM471 380h2v1h-2zM473 379h2v1h-2zM475 378h10v1h-10zM485 379h2v1h-2zM487 380h2v1h-2zM489 381h2v1h-2zM491 382h3v1h-3zM494 383h2v1h-2zM496 384h2v1h-2zM498 385h17v1h-17z" fill="#0000cc" shape-rendering="crispEdges"/>
<path d="M2 339h1v1h-1zM3 340h2v1h-2zM5 341h3v1h-3zM8 342h2v1h-2zM10 343h3v1h-3zM13 344h2v1h-2zM15 345h3v1h-3zM18 346h2v1h-2zM20 347h3v1h-3zM23 348h10v1h-10zM33 347h11v1h-11zM44 346h4v1h-4zM48 345h3v1h-3zM51 344h4v1h-4zM55 343h4v1h-4zM59 342h2v1h-2zM61 341h3v1h-3zM64 340h2v1h-2zM66 339h3v1h-3zM69 338h2v1h-2zM71 337h2v1h-2zM73 336h2v1h-2zM75 335h2v1h-2zM77 334h3v1h-3zM80 333h6v1h-6zM86 332h13v1h-13zM99 333h5v1h-5zM104 334h2v1h-2zM106 335h3v1h-3zM109 336h5v1h-5zM114 337h4v1h-4zM118 338h3v1h-3zM121 339h2v1h-2zM123 340h2v1h-2zM125 341h1v1h-1zM126 342h2v1h-2zM128 343h2v1h-2zM130 344h1v1h-1zM131 345h2v1h-2zM133 346h2v1h-2zM135 347h1v1h-1zM136 348h1v1h-1zM137 349h1v1h-1zM138 350h1v1h-1zM139 351h2v1h-2zM141 352h1v1h-1zM142 353h1v1h-1zM143 354h1v1h-1zM144 355h1v1h-1zM145 356h1v1h-1zM146 357h1v1h-1zM147 358h1v1h-1zM148 359h1v1h-1zM149 360h2v1h-2zM151 361h1v1h-1zM152 362h1v1h-1zM153 363h1v1h-1zM154 364h1v1h-1zM155 365h1v1h-1zM156 366h1v1h-1zM157 367h2v1h-2zM159 368h1v1h-1zM160 369h1v1h-1zM161 370h1v1h-1zM162 371h1v1h-1zM163 372h1v1h-1zM164 373h2v1h-2zM166 374h1v1h-1zM167 375h1v1h-1zM168 376h1v1h-1zM169 377h2v1h-2zM171 378h1v1h-1zM172 379h2v1h-2zM174 380h2v1h-2zM176 381h2v1h-2zM178 382h1v1h-1zM179 383h2v1h-2zM181 384h2v1h-2zM183 385h1v1h-1zM184 386h1v1h-1zM185 387h2v1h-2zM187 388h1v1h-1zM188 389h2v1h-2zM190 390h1v1h-1zM191 391h2v1h-2zM193 392h2v1h-2zM195 393h2v1h-2zM197 394h1v1h-1zM198 395h2v1h-2zM200 396h2v1h-2zM202 397h1v1h-1zM203 398h2v1h-2zM205 399h2v1h-2zM207 400h2v1h-2zM209 401h3v1h-3zM212 402h3v1h-3zM215 403h3v1h-3zM218 404h17v1h-17zM235 403h5v1h-5zM240 402h5v1h-5zM245 401h5v1h-5zM250 400h5v1h-5zM255 399h5v1h-5zM260 398h3v1h-3zM263 397h3v1h-3zM266 396h2v1h-2zM268 395h1v1h-1zM269 394h2v1h-2zM271 393h1v1h-1zM272 392h2v1h-2zM274 391h1v1h-1zM275 390h1v1h-1zM276 389h2v1h-2zM278 388h1v1h-1zM279 387h1v1h-1zM280 386h1v1h-1zM281 385h1v1h-1zM282 384h1v1h-1zM283 383h1v1h-1zM284 382h2v1h-2zM286 381h1v1h-1zM287 380h2v1h-2zM289 379h1v1h-1zM290 378h1v1h-1zM291 377h2v1h-2zM293 376h1v1h-1zM294 375h2v1h-2zM296 374h2v1h-2zM298 373h1v1h-1zM299 372h3v1h-3zM302 371h19v1h-19zM321 372h11v1h-11zM332 373h3v1h-3zM335 374h3v1h-3zM338 375h3v1h-3zM341 376h11v1h-11zM352 377h6v1h-6zM358 378h7v1h-7zM365 379h3v1h-3zM368 380h3v1h-3zM371 381h3v1h-3zM374 382h2v1h-2zM376 383h3v1h-3zM379 384h2v1h-2zM381 385h2v1h-2zM383 386h15v1h-15zM398 387h20v1h-20zM418 386h8v1h-8zM426 385h19v1h-19zM445 386h5v1h-5zM450 387h10v1h-10zM460 386h9v1h-9zM469 385h3v1h-3zM472 384h3v1h-3zM475 383h3v1h-3zM478 382h20v1h-20zM498 383h10v1h-10zM508 384h7v1h-7z" fill="#cc0000" shape-rendering="crispEdges"/>
<g shape-rendering="crispEdges" fill="#000">
<rect x="0" y="314" width="570" height="2"/>
<rect x="569" y="9" width="1" height="411"/>
<rect x="0" y="419" width="570" height="1"/>
<rect x="7" y="419" width="1" height="17"/>
<rect x="107" y="419" width="1" height="17"/>
<rect x="211" y="419" width="1" height="17"/>
<rect x="320" y="419" width="1" height="17"/>
<rect x="415" y="419" width="1" height="17"/>
<rect x="514" y="419" width="1" height="17"/>
</g>
<text><tspan x="0.8" y="8" font-size="10" fill="#00cc00" stroke="#00cc00" stroke-width="0.3" class="g" textLength="22.8" lengthAdjust="spacingAndGlyphs">MA20</tspan></text>
<text><tspan x="40.8" y="8" font-size="10" fill="#c0c0c0" stroke="#c0c0c0" stroke-width="0.15" class="g" textLength="30.92" lengthAdjust="spacingAndGlyphs">BBands</tspan></text>
<text><tspan x="455.7" y="8" font-size="10" fill="#000" stroke="#000" stroke-width="0.3" font-style="italic" class="g" textLength="8.22" lengthAdjust="spacingAndGlyphs">©</tspan> <tspan x="466.8" y="8" font-size="10" fill="#000" stroke="#000" stroke-width="0.3" font-style="italic" class="g" textLength="19.16" lengthAdjust="spacingAndGlyphs">TEC</tspan> <tspan x="489.9" y="8" font-size="10" fill="#000" stroke="#000" stroke-width="0.3" font-style="italic" class="g" textLength="41.4" lengthAdjust="spacingAndGlyphs">4/1/2026</tspan> <tspan x="534.4" y="8" font-size="10" fill="#000" stroke="#000" stroke-width="0.3" font-style="italic" class="g" textLength="14.76" lengthAdjust="spacingAndGlyphs">4:0</tspan> <tspan x="552.6" y="8" font-size="10" fill="#000" stroke="#000" stroke-width="0.3" font-style="italic" class="g" textLength="22.22" lengthAdjust="spacingAndGlyphs">GMT</tspan></text>
<text><tspan x="2.8" y="331" font-size="10" fill="#000" stroke="#000" stroke-width="0.12" class="g" textLength="28.64" lengthAdjust="spacingAndGlyphs">MACD</tspan></text>
<text><tspan x="9.5" y="438" font-size="12" fill="#000" textLength="7.1" lengthAdjust="spacingAndGlyphs">A</tspan></text>
<text><tspan x="109.2" y="438" font-size="12" fill="#000" textLength="7.1" lengthAdjust="spacingAndGlyphs">S</tspan></text>
<text><tspan x="214.0" y="438" font-size="12" fill="#000" textLength="7.68" lengthAdjust="spacingAndGlyphs">O</tspan></text>
<text><tspan x="322.2" y="438" font-size="12" fill="#000" textLength="8.67" lengthAdjust="spacingAndGlyphs">N</tspan></text>
<text><tspan x="417.1" y="438" font-size="12" fill="#000" textLength="8.67" lengthAdjust="spacingAndGlyphs">D</tspan></text>
<text><tspan x="516.2" y="438" font-size="12" fill="#000" textLength="14.25" lengthAdjust="spacingAndGlyphs">26</tspan></text>
<text><tspan x="593.8" y="214" font-size="11" fill="#cc0000" stroke="#cc0000" stroke-width="0.2" textLength="12.25" lengthAdjust="spacingAndGlyphs">76</tspan><tspan x="606.5" y="213" font-size="10" fill="#cc0000" stroke="#cc0000" stroke-width="0.2" class="g" textLength="10.24" lengthAdjust="spacingAndGlyphs">70</tspan></text>
<text><tspan x="569.5" y="261" font-size="11" fill="#009900" stroke="#009900" stroke-width="0.2" textLength="12.25" lengthAdjust="spacingAndGlyphs">69</tspan><tspan x="581.5" y="260" font-size="10" fill="#009900" stroke="#009900" stroke-width="0.2" class="g" textLength="11.12" lengthAdjust="spacingAndGlyphs">90</tspan></text>
<text><tspan x="584.9" y="58" font-size="12" fill="#c0c0c0" textLength="21.75" lengthAdjust="spacingAndGlyphs">100</tspan><tspan x="608.0" y="56" font-size="10" fill="#c0c0c0" stroke="#c0c0c0" stroke-width="0.15" class="g" textLength="11.12" lengthAdjust="spacingAndGlyphs">00</tspan></text>
<text><tspan x="593.8" y="93" font-size="12" fill="#c0c0c0" textLength="12.54" lengthAdjust="spacingAndGlyphs">95</tspan><tspan x="608.0" y="91" font-size="10" fill="#c0c0c0" stroke="#c0c0c0" stroke-width="0.15" class="g" textLength="11.12" lengthAdjust="spacingAndGlyphs">00</tspan></text>
<text><tspan x="593.8" y="127" font-size="12" fill="#c0c0c0" textLength="12.54" lengthAdjust="spacingAndGlyphs">90</tspan><tspan x="608.0" y="125" font-size="10" fill="#c0c0c0" stroke="#c0c0c0" stroke-width="0.15" class="g" textLength="11.12" lengthAdjust="spacingAndGlyphs">00</tspan></text>
<text><tspan x="593.8" y="162" font-size="12" fill="#c0c0c0" textLength="12.54" lengthAdjust="spacingAndGlyphs">85</tspan><tspan x="608.0" y="160" font-size="10" fill="#c0c0c0" stroke="#c0c0c0" stroke-width="0.15" class="g" textLength="11.12" lengthAdjust="spacingAndGlyphs">00</tspan></text>
<text><tspan x="593.8" y="196" font-size="12" fill="#c0c0c0" textLength="12.54" lengthAdjust="spacingAndGlyphs">80</tspan><tspan x="608.0" y="194" font-size="10" fill="#c0c0c0" stroke="#c0c0c0" stroke-width="0.15" class="g" textLength="11.12" lengthAdjust="spacingAndGlyphs">00</tspan></text>
<text><tspan x="593.8" y="230" font-size="12" fill="#c0c0c0" textLength="12.54" lengthAdjust="spacingAndGlyphs">75</tspan><tspan x="608.0" y="228" font-size="10" fill="#c0c0c0" stroke="#c0c0c0" stroke-width="0.15" class="g" textLength="11.12" lengthAdjust="spacingAndGlyphs">00</tspan></text>
<text><tspan x="593.8" y="265" font-size="12" fill="#c0c0c0" textLength="12.54" lengthAdjust="spacingAndGlyphs">70</tspan><tspan x="608.0" y="263" font-size="10" fill="#c0c0c0" stroke="#c0c0c0" stroke-width="0.15" class="g" textLength="11.12" lengthAdjust="spacingAndGlyphs">00</tspan></text>
<text><tspan x="600.7" y="343" font-size="12" fill="#c0c0c0" textLength="5.8" lengthAdjust="spacingAndGlyphs">2</tspan><tspan x="607.6" y="341" font-size="10" fill="#c0c0c0" stroke="#c0c0c0" stroke-width="0.15" class="g" textLength="12.02" lengthAdjust="spacingAndGlyphs">00</tspan></text>
<text><tspan x="600.7" y="373" font-size="12" fill="#c0c0c0" textLength="5.8" lengthAdjust="spacingAndGlyphs">0</tspan><tspan x="607.6" y="371" font-size="10" fill="#c0c0c0" stroke="#c0c0c0" stroke-width="0.15" class="g" textLength="12.02" lengthAdjust="spacingAndGlyphs">00</tspan></text>
<rect x="25" y="4" width="9" height="1" fill="#00cc00" shape-rendering="crispEdges"/>
<rect x="72" y="4" width="9" height="1" fill="#c8c8c8" shape-rendering="crispEdges"/>
</svg>
</body></html>
